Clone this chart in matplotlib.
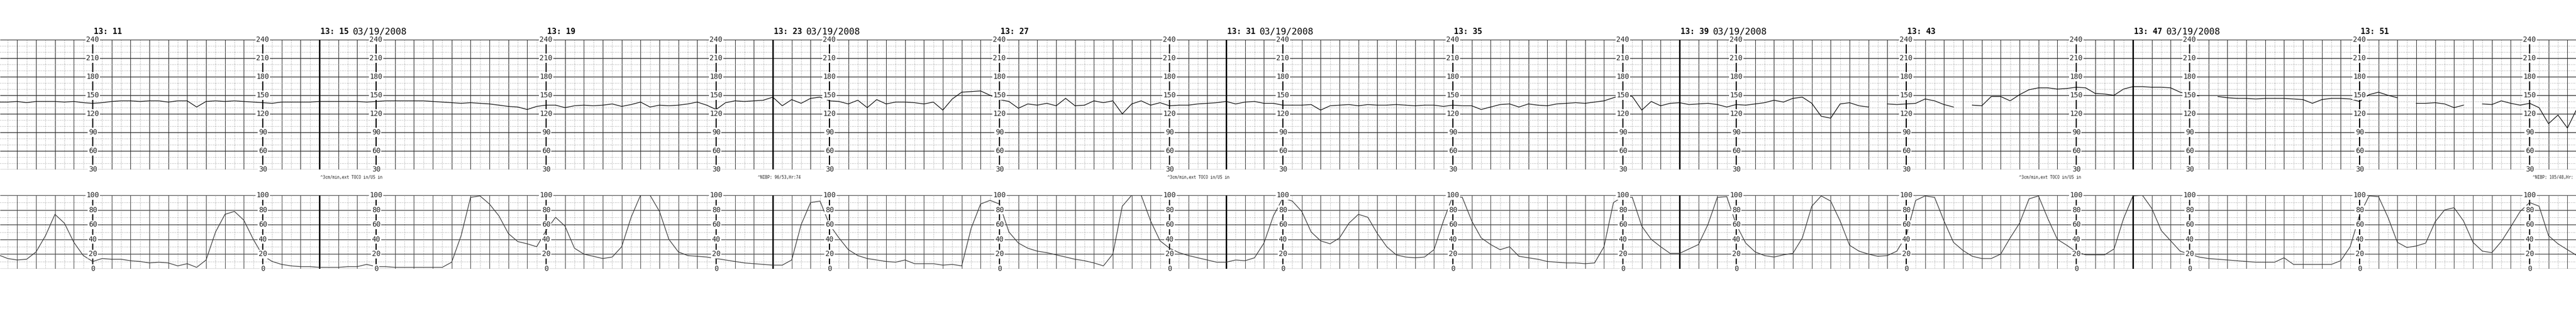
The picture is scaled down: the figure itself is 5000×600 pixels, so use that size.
import numpy as np
import matplotlib
matplotlib.use("Agg")
import matplotlib.pyplot as plt

nan = np.nan

# ---------------- data ----------------
# samples every 10 s, starting at 13:09:20 (minutes after 13:00)
sample_start_min = 9 + 20 / 60
sample_step_min = 10 / 60

fhr_bpm = [
    139, 139, 140, 138, 140, 140, 140, 139, 140, 138, 137, 138, 140, 141, 141, 140, 141, 141, 139, 141,
    141, 131, 140, 141, 140, 141, 140, 139, 138, 137, 139, 139, 139, 139, 140,
    140, 140, 140, 140, 139, 140, 141, 141, 141, 141, 141, 140, 139, 138, 137, 138, 137, 136, 134, 132,
    131, 127, 132, 134, 134, 130,
    133, 134, 133, 134, 136, 132, 135, 139, 131, 134, 133, 134, 136, 139, 134, 127, 138, 141, 140, 141,
    142, 147, 133, 143, 137, 145, 147, 141, 140, 136, 142, 130, 143, 136, 139, 139, 138, 136, 139, 126,
    144, 155, 156, 157, 150, 143, 140, 129,
    136, 134, 137, 133, 145, 133, 134, 141, 138, 141, 120, 136, 141, 134, 138, 133, 134, 134, 136, 137,
    138, 140, 136, 139, 140, 137, 137, 134, 134, 134, 135, 126, 133, 134,
    135, 133, 135, 134, 134, 135, 134, 133, 134, 134, 132, 134, 133, 133, 127, 131, 135, 136, 131, 136,
    134, 133, 136, 137, 138, 137, 139, 141, 146, 151, 148, 126, 140, 133, 137, 138,
    135, 136, 137, 135, 131, 135, 134, 136, 138, 142, 139, 145, 147, 137, 116, 113, 136, 138, 133, 131,
    nan, 136, 135, 136, 137, 144, 141, 135, 131, nan, 134, 133, 148, 148, 141,
    151, 159, 162, 162, 160, 161, 163, 162, 153, 152, 150, 160, 164, 164, 163, 163, 162, 155, 151, 149,
    nan, 148, 146, 145, 145, 144, 145, 145, 145, 144, 143, 137, 143, 145, 145, 144, 140,
    151, 155, 150, 146, nan, 137, 137, 138, 136, 130, 134, nan, 136, 135, 141, 137, 134, 137, 130, 104,
    118, 97, 128,
]

uc_mmhg = [
    19, 14, 12, 13, 23, 45, 74, 62, 36, 18, 10, 14, 13, 13, 11, 10, 8, 9, 8, 4,
    7, 2, 12, 50, 74, 78, 66, 40, 18, 10, 6, 4, 3, 3, 2, 2, 2, 3, 3, 6,
    3, 3, 2, 2, 2, 2, 2, 2, 9, 45, 97, 99, 88, 72, 48,
    37, 34, 30, 52, 70, 58, 28, 20, 17, 14, 16, 30, 70, 100, 100, 78, 40, 23, 18, 17,
    16, 14, 12, 10, 8, 7, 6, 5, 5, 12, 60, 90, 92, 60, 42, 26, 18, 14, 12, 10,
    9, 12, 7, 7, 7, 5, 6, 4, 55, 88, 93, 88, 50, 35,
    28, 24, 22, 19, 16, 13, 11, 8, 4, 20, 85, 100, 100, 65, 38, 28, 22, 18, 15, 12,
    9, 9, 12, 11, 15, 35, 72, 96, 92, 78, 50, 38, 34, 42,
    62, 74, 70, 48, 30, 19, 16, 15, 16, 26, 65, 99, 97, 65, 42, 33, 26, 30, 17, 15,
    13, 10, 9, 8, 8, 7, 8, 30, 90, 98, 97, 58, 40, 30, 21, 21,
    27, 33, 60, 97, 98, 60, 35, 23, 18, 16, 19, 21, 42, 85, 99, 92, 65, 32, 24, 20,
    17, 18, 24, 45, 93, 99, 97, 65, 36, 25, 17, 14, 14, 20, 42,
    62, 95, 99, 68, 40, 32, 23, 19, 19, 19, 27, 68, 99, 100, 82, 52, 38, 24, 20, 16,
    14, 13, 12, 11, 10, 9, 9, 9, 15, 6, 6, 6, 6, 6, 11, 30, 73,
    99, 98, 70, 36, 29, 31, 35, 64, 80, 83, 65, 36, 24, 22, 37, 57, 78, 90, 85, 45,
    34, 26, 18,
]

page_start_minutes = [7, 15, 23, 31, 39, 47]       # 13:07 ... 13:47
page_date = "03/19/2008"
fhr_scale_labels = [240, 210, 180, 150, 120, 90, 60, 30]
uc_scale_labels = [100, 80, 60, 40, 20, 0]
annotations = [
    (15.0, "^3cm/min,ext TOCO in/US in"),
    (22.72, "^NIBP: 96/53,Hr:74"),
    (29.95, "^3cm/min,ext TOCO in/US in"),
    (44.97, "^3cm/min,ext TOCO in/US in"),
    (54.04, "^NIBP: 105/48,Hr:"),
]

# ---------------- layout ----------------
W, H, DPI = 5000, 600, 100
PX_PER_MIN = 110.0
X_13_15 = 620.0
tmin = 15.0 - X_13_15 / PX_PER_MIN
tmax = tmin + W / PX_PER_MIN

FHR_TOP, FHR_BOT = 77, 329
UC_TOP, UC_BOT = 379, 522

fig = plt.figure(figsize=(W / DPI, H / DPI), dpi=DPI)
fig.patch.set_facecolor("white")

def fy(py):
    return 1 - py / H

def tx(t):
    return (t - tmin) / (tmax - tmin)

ax_f = fig.add_axes([0, fy(FHR_BOT), 1, (FHR_BOT - FHR_TOP) / H])
ax_u = fig.add_axes([0, fy(UC_BOT), 1, (UC_BOT - UC_TOP) / H])

MONO = "DejaVu Sans Mono"
grid_col = "#2a2a2a"
dot_col = "#555555"

n = len(fhr_bpm)
t = sample_start_min + sample_step_min * np.arange(n)

# vertical grid positions (every 10 s)
k0 = int(np.floor(tmin * 6))
k1 = int(np.ceil(tmax * 6))
solid_v = [k / 6 for k in range(k0, k1 + 1) if k % 2 == 0]
dotted_v = [k / 6 for k in range(k0, k1 + 1) if k % 2 == 1]

col_minutes = [p + d for p in page_start_minutes for d in (1, 4, 7)]
col_minutes = [c for c in col_minutes if tmin < c < tmax]

def draw_panel(ax, ylo, yhi, solid_step, dot_step, labels, light=False):
    ax.set_xlim(tmin, tmax)
    ax.set_ylim(ylo, yhi)
    ax.set_axis_off()
    gc = "#444444" if light else grid_col
    ax.vlines(solid_v, ylo, yhi, colors=gc, lw=0.8, zorder=1)
    ax.vlines(dotted_v, ylo, yhi, colors=dot_col, lw=0.6, linestyles=(0, (1, 3)), zorder=1)
    ys_solid = np.arange(ylo, yhi + 0.1, solid_step)
    ys_dot = [v for v in np.arange(ylo, yhi + 0.1, dot_step) if v % solid_step != 0]
    ax.hlines(ys_solid, tmin, tmax, colors=gc, lw=1.0, zorder=1)
    ax.hlines(ys_dot, tmin, tmax, colors=dot_col, lw=0.6, linestyles=(0, (1, 3)), zorder=1)
    for p in page_start_minutes:
        if tmin < p < tmax:
            ax.vlines(p, ylo, yhi, colors="black", lw=2.0, zorder=2)
    for c in col_minutes:
        ax.vlines(c, ylo, yhi, colors="black", lw=1.6, zorder=3)
        for v in labels:
            ax.text(c, v, str(v), ha="center", va="center", family=MONO, fontsize=10,
                    color="#222222", zorder=5,
                    bbox=dict(boxstyle="square,pad=0.12", fc="white", ec="none"))

draw_panel(ax_f, 30, 240, 30, 10, fhr_scale_labels)
draw_panel(ax_u, 0, 100, 20, 10, uc_scale_labels, light=True)

ax_f.plot(t, fhr_bpm, color="black", lw=0.9, zorder=4)
ax_u.plot(t, np.clip(uc_mmhg, 0, 100), color="#333333", lw=0.9, zorder=4)

# time labels
for p in page_start_minutes:
    for d in (0, 4):
        m = p + d
        x = tx(m) + 2 / W
        if x < 0 or x > 1:
            continue
        fig.text(x, fy(61), f"13: {m:02d}", ha="left", va="center", family=MONO,
                 fontsize=11, fontweight="bold", color="black")
        if d == 0:
            fig.text(x + 63 / W, fy(61), page_date, ha="left", va="center", family=MONO,
                     fontsize=12.5, color="black")

for m, s in annotations:
    fig.text(tx(m) + 2 / W, fy(345), s, ha="left", va="center", family=MONO,
             fontsize=5.6, color="#222222")

fig.savefig("out.png", dpi=DPI, facecolor="white")
